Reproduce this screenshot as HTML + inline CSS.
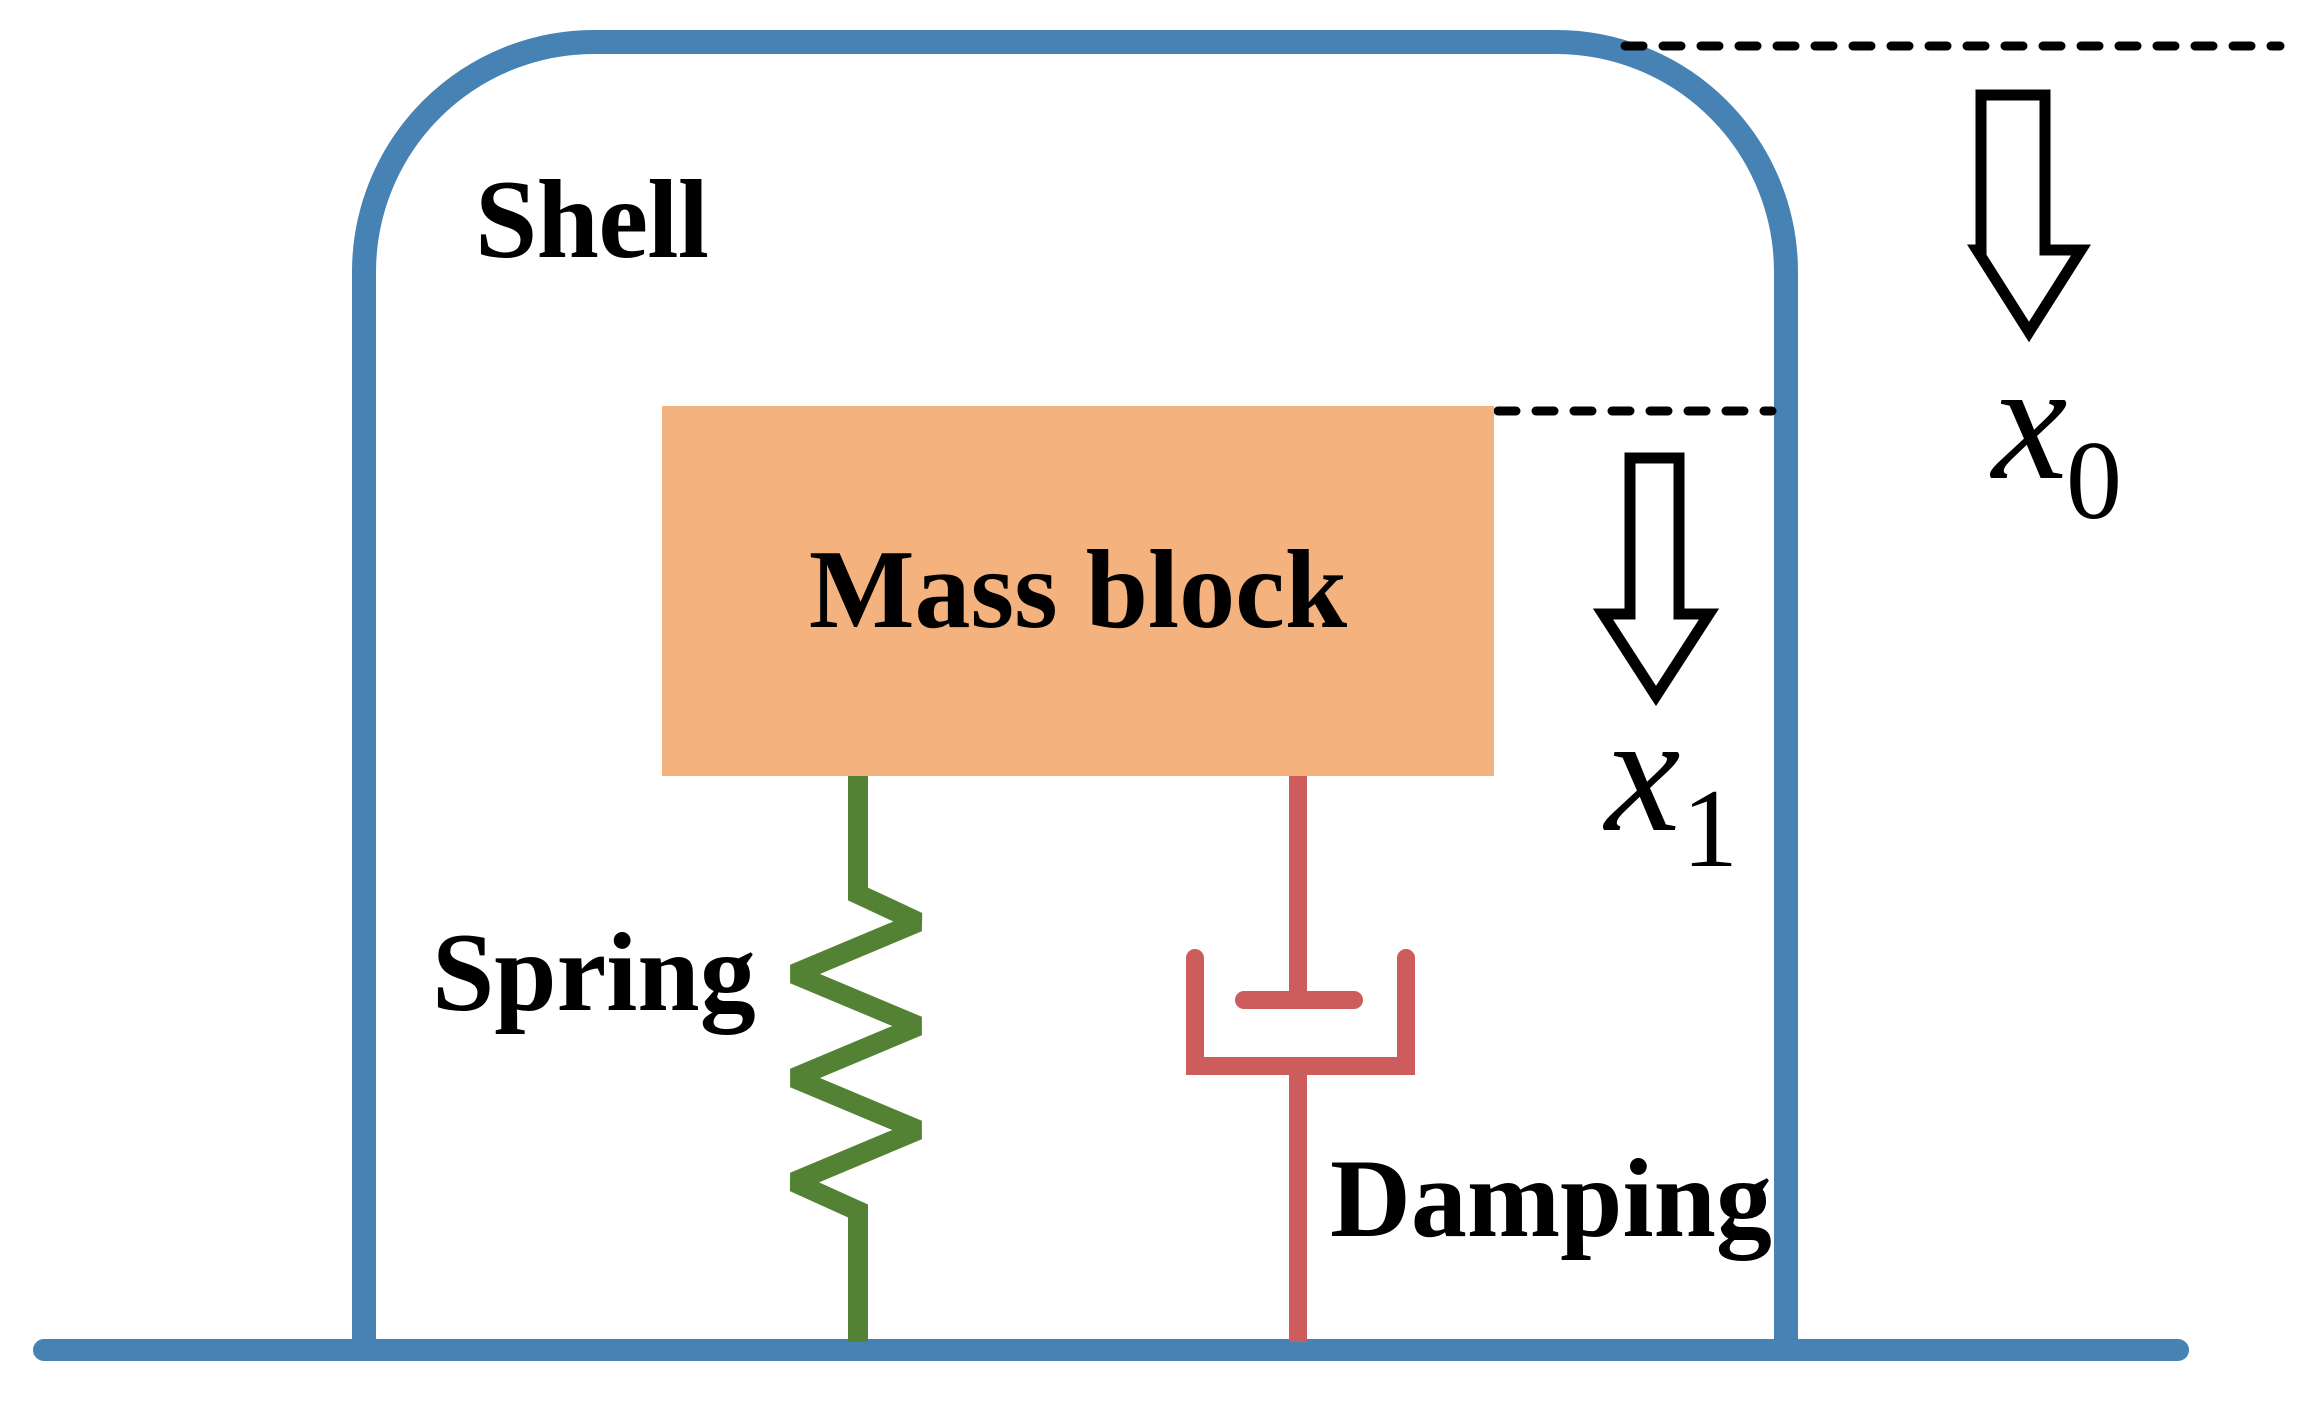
<!DOCTYPE html>
<html><head><meta charset="utf-8"><style>
html,body{margin:0;padding:0;background:#fff;}
svg{display:block;}
text{font-family:"Liberation Serif",serif;}
</style></head><body>
<svg width="2310" height="1411" viewBox="0 0 2310 1411" xmlns="http://www.w3.org/2000/svg">
<rect width="2310" height="1411" fill="#fff"/>
<path d="M364 1345 L364 272 A230 230 0 0 1 594 42 L1556 42 A230 230 0 0 1 1786 272 L1786 1345" fill="none" stroke="#4682B4" stroke-width="24"/>
<line x1="44" y1="1350" x2="2178" y2="1350" stroke="#4682B4" stroke-width="22" stroke-linecap="round"/>
<line x1="1625" y1="46" x2="2280" y2="46" stroke="#000" stroke-width="9" stroke-dasharray="18 20" stroke-linecap="round"/>
<line x1="1498" y1="411" x2="1772" y2="411" stroke="#000" stroke-width="9" stroke-dasharray="18 20" stroke-linecap="round"/>
<rect x="662" y="406" width="832" height="370" fill="#F4B27F"/>
<text x="1078" y="627" font-size="112" font-weight="bold" text-anchor="middle">Mass block</text>
<path d="M1981 95 L2045 95 L2045 250 L2081 250 L2029 332 L1977 250 L1981 250 Z" fill="none" stroke="#000" stroke-width="11"/>
<path d="M1630 458 L1679 458 L1679 614 L1709 614 L1656 696 L1603 614 L1630 614 Z" fill="none" stroke="#000" stroke-width="11"/>
<text x="1992" y="478" font-size="170" font-style="italic">x</text>
<text x="2066" y="518" font-size="112">0</text>
<text x="1605" y="830" font-size="170" font-style="italic">x</text>
<text x="1682" y="866" font-size="112">1</text>
<text x="475" y="257" font-size="112" font-weight="bold" textLength="234">Shell</text>
<text x="432" y="1010" font-size="112" font-weight="bold">Spring</text>
<text x="1330" y="1236" font-size="112" font-weight="bold">Damping</text>
<polyline points="858,776 858,894 918,922 794,974 918,1026 794,1078 918,1130 794,1182 858,1211 858,1342" fill="none" stroke="#548235" stroke-width="20" stroke-linejoin="miter" stroke-miterlimit="2"/>
<line x1="1298" y1="776" x2="1298" y2="1000" stroke="#CD5C5C" stroke-width="18"/>
<line x1="1244" y1="1000" x2="1354" y2="1000" stroke="#CD5C5C" stroke-width="18" stroke-linecap="round"/>
<polyline points="1195,958 1195,1066 1406,1066 1406,958" fill="none" stroke="#CD5C5C" stroke-width="18" stroke-linecap="round"/>
<line x1="1298" y1="1066" x2="1298" y2="1342" stroke="#CD5C5C" stroke-width="18"/>
</svg>
</body></html>
